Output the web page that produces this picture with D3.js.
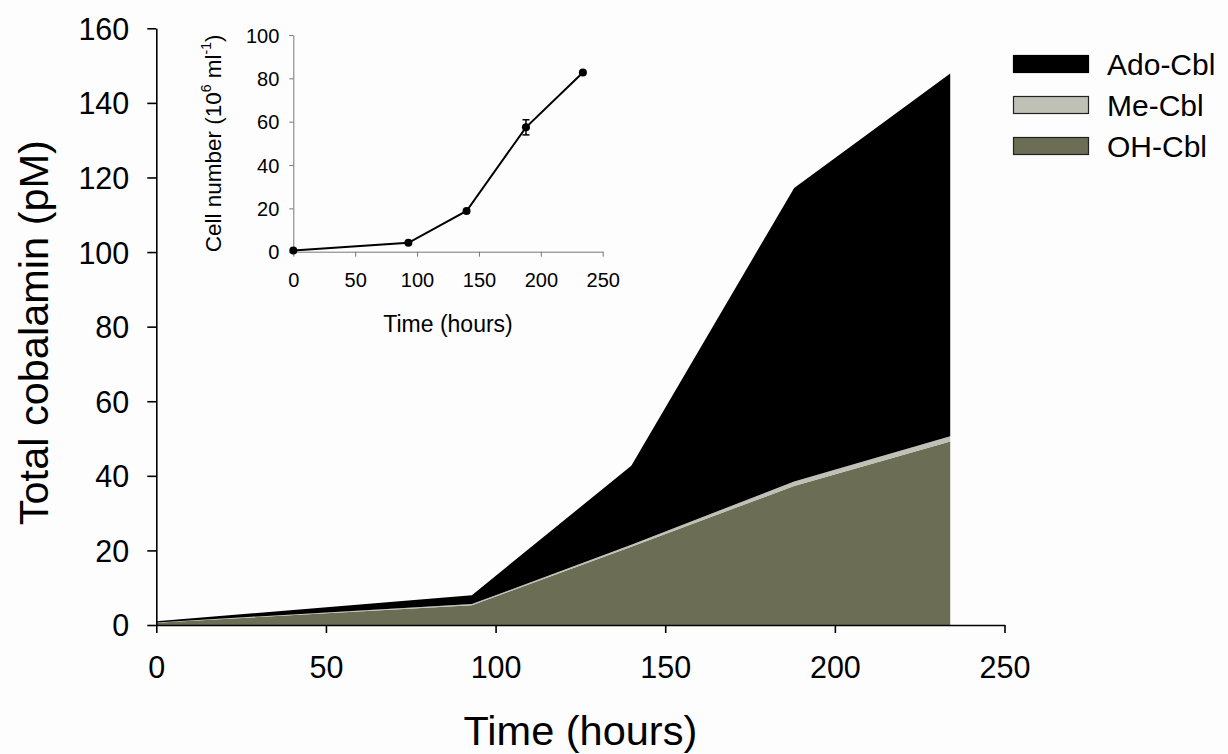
<!DOCTYPE html>
<html>
<head>
<meta charset="utf-8">
<script src="https://cdn.jsdelivr.net/npm/d3@7"></script>
<style>
  html, body { margin: 0; padding: 0; background: #fdfdfd; }
  svg { display: block; font-family: "Liberation Sans", Arial, sans-serif; }
</style>
</head>
<body>
<svg id="chart" width="1228" height="754"></svg>
<script>
// ---- Data ----
const times = [0, 93, 140, 188, 234];
const series = ["OH-Cbl", "Me-Cbl", "Ado-Cbl"];
const ohCbl  = [0.6, 5.3, 21.0, 37.3, 49.2];
const meCbl  = [0.1, 0.3, 0.5, 1.2, 1.4];
const adoCbl = [0.3, 2.4, 21.2, 78.7, 97.3];
const xTicks = [0, 50, 100, 150, 200, 250];
const yTicks = [0, 20, 40, 60, 80, 100, 120, 140, 160];

const insetTimes = [0, 93, 140, 188, 234];
const insetCells = [0.5, 4.1, 18.8, 57.4, 82.7];
const insetErr   = [0, 0, 0, 3.5, 0];
const insetXTicks = [0, 50, 100, 150, 200, 250];
const insetYTicks = [0, 20, 40, 60, 80, 100];

const legendOrder = ["Ado-Cbl", "Me-Cbl", "OH-Cbl"];
const colors = { "OH-Cbl": "#6b6d54", "Me-Cbl": "#bfc0b6", "Ado-Cbl": "#000000" };

// ---- Build table ----
const table = times.map((t, i) => ({ t, "OH-Cbl": ohCbl[i], "Me-Cbl": meCbl[i], "Ado-Cbl": adoCbl[i] }));

const svg = d3.select("#chart");

// ---- Main chart ----
const x = d3.scaleLinear().domain([0, 250]).range([156.3, 1004.5]);
const y = d3.scaleLinear().domain([0, 160]).range([625, 28.3]);

const stacked = d3.stack().keys(series)(table);

const area = d3.area()
  .x(d => x(d.data.t))
  .y0(d => y(d[0]))
  .y1(d => y(d[1]));

svg.append("g").selectAll("path")
  .data(stacked)
  .join("path")
  .attr("d", area)
  .attr("fill", d => colors[d.key])
  .attr("stroke", "none");

// axes
const xAxis = svg.append("g")
  .attr("transform", `translate(0,${y(0)})`)
  .call(d3.axisBottom(x).tickValues(xTicks).tickSize(8).tickSizeOuter(0));
xAxis.select(".domain").attr("stroke", "#000").attr("stroke-width", 1.6);
xAxis.selectAll(".tick line").attr("stroke", "#000").attr("stroke-width", 1.6);
xAxis.selectAll(".tick text")
  .attr("y", 53).attr("dy", null)
  .attr("font-size", 30.5).attr("fill", "#000")
  .attr("font-family", "Liberation Sans, Arial, sans-serif");

const yAxis = svg.append("g")
  .attr("transform", `translate(${x(0)},0)`)
  .call(d3.axisLeft(y).tickValues(yTicks).tickSize(9).tickSizeOuter(0));
yAxis.select(".domain").attr("stroke", "#000").attr("stroke-width", 1.6);
yAxis.selectAll(".tick line").attr("stroke", "#000").attr("stroke-width", 1.6);
yAxis.selectAll(".tick text")
  .attr("x", -27).attr("dy", "0.36em")
  .attr("font-size", 30.5).attr("fill", "#000")
  .attr("font-family", "Liberation Sans, Arial, sans-serif");

// titles
svg.append("text")
  .attr("x", (x(0) + x(250)) / 2).attr("y", 745)
  .attr("text-anchor", "middle").attr("font-size", 41.5).attr("fill", "#000")
  .text("Time (hours)");

svg.append("text")
  .attr("transform", `translate(48,${(y(0) + y(160)) / 2 + 6}) rotate(-90)`)
  .attr("text-anchor", "middle").attr("font-size", 41.5).attr("fill", "#000")
  .text("Total cobalamin (pM)");

// legend
const legend = svg.append("g");
legendOrder.forEach((k, i) => {
  const cy = 64 + i * 41;
  legend.append("rect")
    .attr("x", 1013.5).attr("y", cy - 8.5).attr("width", 75).attr("height", 17)
    .attr("fill", colors[k])
    .attr("stroke", k === "Ado-Cbl" ? "#000" : "#222").attr("stroke-width", 1.2);
  legend.append("text")
    .attr("x", 1107).attr("y", cy + 11)
    .attr("font-size", 30).attr("fill", "#000")
    .text(k);
});

// ---- Inset ----
const ix = d3.scaleLinear().domain([0, 250]).range([293.3, 602.7]);
const iy = d3.scaleLinear().domain([0, 100]).range([251.7, 35]);

const ixAxis = svg.append("g")
  .attr("transform", `translate(0,${iy(0)})`)
  .call(d3.axisBottom(ix).tickValues(insetXTicks).tickSize(5).tickSizeOuter(0));
ixAxis.select(".domain").attr("stroke", "#777").attr("stroke-width", 1);
ixAxis.selectAll(".tick line").attr("stroke", "#777").attr("stroke-width", 1);
ixAxis.selectAll(".tick text")
  .attr("y", 35).attr("dy", null)
  .attr("font-size", 20).attr("fill", "#000")
  .attr("font-family", "Liberation Sans, Arial, sans-serif");

const iyAxis = svg.append("g")
  .attr("transform", `translate(${ix(0)},0)`)
  .call(d3.axisLeft(iy).tickValues(insetYTicks).tickSize(4).tickSizeOuter(0));
iyAxis.select(".domain").attr("stroke", "#777").attr("stroke-width", 1);
iyAxis.selectAll(".tick line").attr("stroke", "#777").attr("stroke-width", 1);
iyAxis.selectAll(".tick text")
  .attr("x", -14).attr("dy", "0.36em")
  .attr("font-size", 20).attr("fill", "#000")
  .attr("font-family", "Liberation Sans, Arial, sans-serif");

const insetData = insetTimes.map((t, i) => ({ t, v: insetCells[i], e: insetErr[i] }));

svg.append("path")
  .datum(insetData)
  .attr("fill", "none").attr("stroke", "#000").attr("stroke-width", 2)
  .attr("d", d3.line().x(d => ix(d.t)).y(d => iy(d.v)));

const eb = svg.append("g").selectAll("g")
  .data(insetData.filter(d => d.e > 0))
  .join("g");
eb.append("line")
  .attr("x1", d => ix(d.t)).attr("x2", d => ix(d.t))
  .attr("y1", d => iy(d.v + d.e)).attr("y2", d => iy(d.v - d.e))
  .attr("stroke", "#000").attr("stroke-width", 1.5);
eb.append("line")
  .attr("x1", d => ix(d.t) - 3.5).attr("x2", d => ix(d.t) + 3.5)
  .attr("y1", d => iy(d.v + d.e)).attr("y2", d => iy(d.v + d.e))
  .attr("stroke", "#000").attr("stroke-width", 1.5);
eb.append("line")
  .attr("x1", d => ix(d.t) - 3.5).attr("x2", d => ix(d.t) + 3.5)
  .attr("y1", d => iy(d.v - d.e)).attr("y2", d => iy(d.v - d.e))
  .attr("stroke", "#000").attr("stroke-width", 1.5);

svg.append("g").selectAll("circle")
  .data(insetData)
  .join("circle")
  .attr("cx", d => ix(d.t)).attr("cy", d => iy(d.v)).attr("r", 4)
  .attr("fill", "#000");

svg.append("text")
  .attr("x", (ix(0) + ix(250)) / 2).attr("y", 332)
  .attr("text-anchor", "middle").attr("font-size", 23).attr("fill", "#000")
  .text("Time (hours)");

const iyt = svg.append("text")
  .attr("transform", `translate(221,${(iy(0) + iy(100)) / 2}) rotate(-90)`)
  .attr("text-anchor", "middle").attr("font-size", 22.5).attr("fill", "#000");
iyt.append("tspan").text("Cell number (10");
iyt.append("tspan").attr("font-size", 14).attr("dy", -10).text("6");
iyt.append("tspan").attr("dy", 10).text(" ml");
iyt.append("tspan").attr("font-size", 14).attr("dy", -10).text("-1");
iyt.append("tspan").attr("dy", 10).text(")");
</script>
</body>
</html>
